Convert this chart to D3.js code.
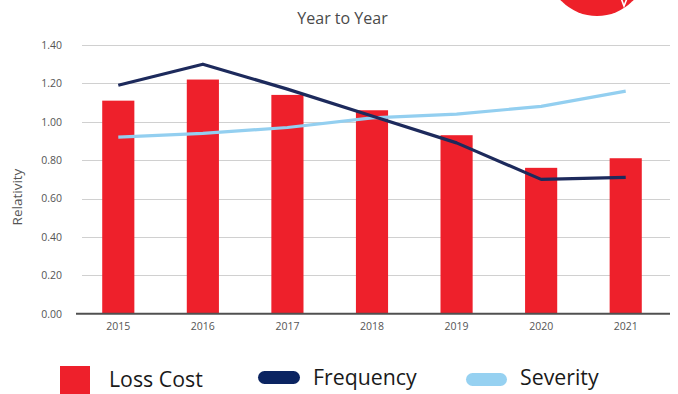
<!DOCTYPE html>
<html>
<head>
<meta charset="utf-8">
<script src="https://cdn.jsdelivr.net/npm/d3@7"></script>
<style>
  html, body { margin: 0; padding: 0; background: #fff; }
  svg { display: block; }
</style>
</head>
<body>
<svg id="chart" width="678" height="394"></svg>
<script>
// Year-to-year relativities
const years = ["2015", "2016", "2017", "2018", "2019", "2020", "2021"];
const lossCost = [1.11, 1.22, 1.14, 1.06, 0.93, 0.76, 0.81];
const frequency = [1.19, 1.30, 1.17, 1.03, 0.89, 0.70, 0.71];
const severity = [0.92, 0.94, 0.97, 1.02, 1.04, 1.08, 1.16];
const yTicks = [0, 0.2, 0.4, 0.6, 0.8, 1.0, 1.2, 1.4];

const svg = d3.select("#chart");
const font = "'Open Sans', 'Noto Sans', sans-serif";

const x = d3.scaleBand().domain(years).range([76, 668]).paddingInner(0.62).paddingOuter(0.31);
const y = d3.scaleLinear().domain([0, 1.4]).range([313.7, 45]);

// logo mark in the top-right corner
svg.append("circle").attr("cx", 597).attr("cy", -34).attr("r", 50).attr("fill", "#ee2029");
svg.append("path").attr("d", "M621,-2 L624,6 L628,-4").attr("fill", "none")
  .attr("stroke", "#fff").attr("stroke-width", 1.6);

// title
svg.append("text").attr("x", 342.5).attr("y", 24).attr("text-anchor", "middle")
  .attr("font-family", font).attr("font-size", 16).attr("fill", "#4a4a4a").text("Year to Year");

// gridlines
svg.append("g").selectAll("line").data(yTicks.filter(d => d > 0)).join("line")
  .attr("x1", 82).attr("x2", 670)
  .attr("y1", d => Math.round(y(d)) + 0.5).attr("y2", d => Math.round(y(d)) + 0.5)
  .attr("stroke", "#d0d0d0").attr("stroke-width", 1);

// y axis labels
const yAxis = svg.append("g").attr("transform", "translate(66,0)")
  .call(d3.axisLeft(y).tickValues(yTicks).tickFormat(d3.format(".2f")).tickSize(0).tickPadding(4));
yAxis.select(".domain").remove();
yAxis.selectAll("text").attr("font-family", font).attr("font-size", 10.5).attr("fill", "#555");

svg.append("text").attr("transform", "translate(22,197) rotate(-90)")
  .attr("text-anchor", "middle").attr("font-family", font).attr("font-size", 13.5)
  .attr("fill", "#555").text("Relativity");

// bars
svg.append("g").selectAll("rect").data(years).join("rect")
  .attr("x", d => x(d)).attr("width", x.bandwidth())
  .attr("y", (d, i) => y(lossCost[i])).attr("height", (d, i) => y(0) - y(lossCost[i]))
  .attr("fill", "#ee202b");

// x axis
const xAxis = svg.append("g").attr("transform", `translate(0,${y(0)})`)
  .call(d3.axisBottom(x).tickSize(0).tickPadding(9));
xAxis.select(".domain").remove();
xAxis.selectAll("text").attr("font-family", font).attr("font-size", 10.5).attr("fill", "#555");
svg.append("line").attr("x1", 76).attr("x2", 670).attr("y1", y(0)).attr("y2", y(0))
  .attr("stroke", "#505050").attr("stroke-width", 2);

// lines
const cx = d => x(d) + x.bandwidth() / 2;
const line = d3.line().x(d => cx(d[0])).y(d => y(d[1]));
svg.append("path").datum(years.map((d, i) => [d, severity[i]]))
  .attr("d", line).attr("fill", "none").attr("stroke", "#93cff0").attr("stroke-width", 3.2);
svg.append("path").datum(years.map((d, i) => [d, frequency[i]]))
  .attr("d", line).attr("fill", "none").attr("stroke", "#1d2a5c").attr("stroke-width", 3.2)
  .attr("stroke-linejoin", "round");

// legend
const lg = svg.append("g").attr("font-family", font).attr("font-size", 21.3).attr("fill", "#1a1a1a");
lg.append("rect").attr("x", 60).attr("y", 366).attr("width", 30).attr("height", 28).attr("fill", "#ee202b");
lg.append("text").attr("x", 109).attr("y", 387).text("Loss Cost");
lg.append("rect").attr("x", 258).attr("y", 371).attr("width", 42).attr("height", 13).attr("rx", 6.5).attr("fill", "#0b2461");
lg.append("text").attr("x", 313).attr("y", 385).text("Frequency");
lg.append("rect").attr("x", 466).attr("y", 373).attr("width", 41).attr("height", 13).attr("rx", 6.5).attr("fill", "#96d1f1");
lg.append("text").attr("x", 520).attr("y", 385).text("Severity");
</script>
</body>
</html>
